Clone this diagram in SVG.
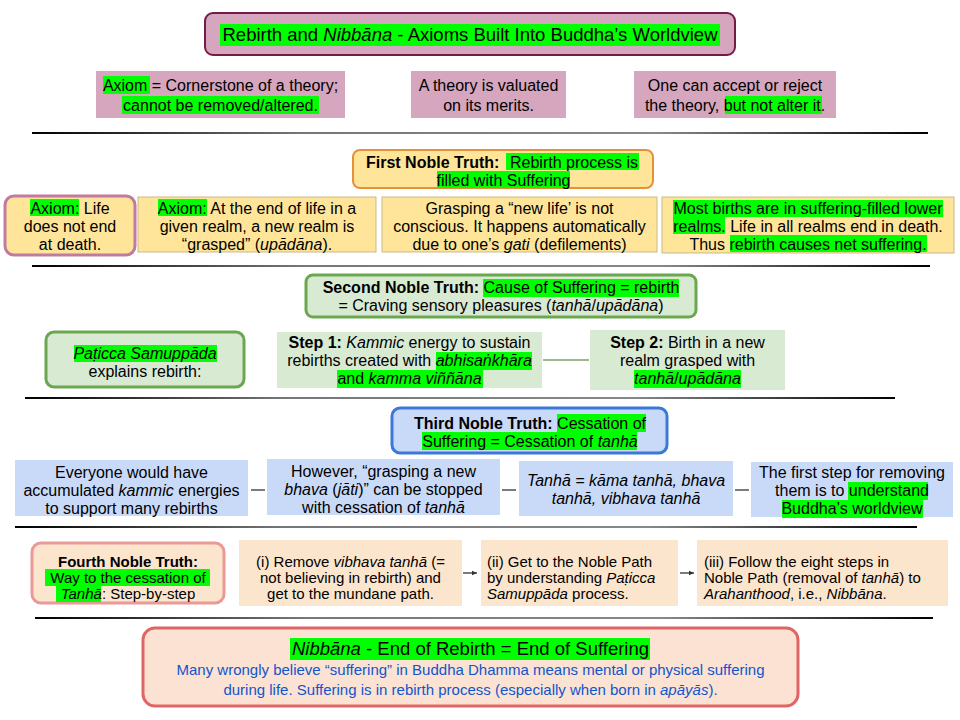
<svg xmlns="http://www.w3.org/2000/svg" width="960" height="720" viewBox="0 0 960 720">
<defs>
<style>
text{font-family:"Liberation Sans",Arial,sans-serif;font-size:16px;fill:#000;text-anchor:middle}
.b{font-weight:bold}
.i{font-style:italic}
.t{font-size:18.5px}
.s{font-size:15px}
.l{text-anchor:start}
.blue{fill:#1155cc;font-size:15px}
.hl{fill:#00ff00}
.pink{fill:#d5a6bd}
.yel{fill:#ffe599}
.yelb{fill:#ffe599;stroke:#c9b98a;stroke-width:1}
.grn{fill:#d9ead3}
.blu{fill:#c9daf8}
.pch{fill:#fce5cd}
.sep{fill:url(#sg)}
.con{stroke:#333;stroke-width:1.3;fill:none}
</style>
<linearGradient id="sg" x1="0" y1="0" x2="1" y2="0">
<stop offset="0" stop-color="#000"/>
<stop offset="0.3" stop-color="#777"/>
<stop offset="0.7" stop-color="#888"/>
<stop offset="1" stop-color="#000"/>
</linearGradient>
<marker id="ah" markerWidth="6" markerHeight="6" refX="5" refY="3" orient="auto" markerUnits="userSpaceOnUse">
<path d="M0,0.8 L5,3 L0,5.2 Z" fill="#333"/>
</marker>
</defs>
<rect width="960" height="720" fill="#fff"/>

<g id="separators">
<rect class="sep" x="32" y="132" width="896" height="2"/>
<rect class="sep" x="32" y="265" width="898" height="2"/>
<rect class="sep" x="25" y="397" width="870" height="2"/>
<rect class="sep" x="15" y="526" width="902" height="2"/>
<rect class="sep" x="35" y="617" width="898" height="2"/>
</g>

<g id="title">
<rect x="205" y="13" width="530" height="42" rx="8" fill="#d5a6bd" stroke="#741b47" stroke-width="2"/>
<rect class="hl" x="220" y="24" width="500" height="22"/>
<text class="t" x="470" y="41">Rebirth and <tspan class="i">Nibbāna</tspan> - Axioms Built Into Buddha’s Worldview</text>
</g>

<g id="axiom-def">
<rect class="pink" x="96" y="71" width="249" height="47"/>
<rect class="hl" x="103" y="76" width="47" height="18"/>
<rect class="hl" x="122" y="96" width="197" height="18"/>
<text x="220.5" y="90.5">Axiom = Cornerstone of a theory;</text>
<text x="220.5" y="110.5">cannot be removed/altered.</text>
</g>
<g id="theory-merits">
<rect class="pink" x="411" y="71" width="155" height="47"/>
<text x="488.5" y="90.5">A theory is valuated</text>
<text x="488.5" y="110.5">on its merits.</text>
</g>
<g id="accept-reject">
<rect class="pink" x="634" y="71" width="202" height="47"/>
<rect class="hl" x="725" y="96" width="97" height="18"/>
<text x="735" y="90.5">One can accept or reject</text>
<text x="735" y="110.5">the theory, but not alter it.</text>
</g>

<g id="first-noble-truth">
<rect x="353" y="150" width="300" height="38" rx="7" fill="#ffe599" stroke="#e69138" stroke-width="2"/>
<rect class="hl" x="506" y="153" width="133" height="17"/>
<rect class="hl" x="437" y="171" width="133" height="17"/>
<text class="l" x="366" y="167.5"><tspan class="b">First Noble Truth:</tspan><tspan x="510">Rebirth process is</tspan></text>
<text x="503.5" y="185.5">filled with Suffering</text>
</g>

<g id="axiom-life">
<rect x="5" y="196" width="130" height="59" rx="9" fill="#ffe599" stroke="#c27ba0" stroke-width="3"/>
<rect class="hl" x="30" y="199" width="49" height="17"/>
<text x="70" y="213.5">Axiom: Life</text>
<text x="70" y="231.5">does not end</text>
<text x="70" y="249.5">at death.</text>
</g>
<g id="axiom-grasped">
<rect class="yelb" x="138" y="197" width="238" height="55"/>
<rect class="hl" x="158" y="199" width="49" height="17"/>
<text x="257" y="213.5">Axiom: At the end of life in a</text>
<text x="257" y="231.5">given realm, a new realm is</text>
<text x="257" y="249.5">“grasped” (<tspan class="i">upādāna</tspan>).</text>
</g>
<g id="grasping">
<rect class="yelb" x="382" y="197" width="275" height="55"/>
<text x="519.5" y="213.5">Grasping a “new life’ is not</text>
<text x="519.5" y="231.5">conscious. It happens automatically</text>
<text x="519.5" y="249.5">due to one’s <tspan class="i">gati</tspan> (defilements)</text>
</g>
<g id="most-births">
<rect class="yelb" x="662" y="197" width="292" height="56"/>
<rect class="hl" x="673" y="200" width="270" height="17"/>
<rect class="hl" x="673" y="217" width="52" height="17"/>
<rect class="hl" x="730" y="235" width="197" height="17"/>
<text x="808" y="213.5">Most births are in suffering-filled lower</text>
<text x="808" y="231.5">realms. Life in all realms end in death.</text>
<text x="808" y="249.5">Thus rebirth causes net suffering.</text>
</g>

<g id="second-noble-truth">
<rect x="306" y="275" width="390" height="42" rx="7" fill="#d9ead3" stroke="#6aa84f" stroke-width="3"/>
<rect class="hl" x="483" y="279" width="196" height="18"/>
<text x="501" y="293"><tspan class="b">Second Noble Truth:</tspan> Cause of Suffering = rebirth</text>
<text x="501" y="311">= Craving sensory pleasures (<tspan class="i">tanhā</tspan>/<tspan class="i">upādāna</tspan>)</text>
</g>

<g id="paticca">
<rect x="46" y="332" width="198" height="55" rx="8" fill="#d9ead3" stroke="#6aa84f" stroke-width="3"/>
<rect class="hl" x="74" y="345" width="143" height="17"/>
<text x="145" y="359"><tspan class="i">Paṭicca Samuppāda</tspan></text>
<text x="145" y="377">explains rebirth:</text>
</g>
<g id="step1">
<rect class="grn" x="277" y="332" width="265" height="56"/>
<rect class="hl" x="436" y="352" width="96" height="18"/>
<rect class="hl" x="337" y="370" width="146" height="18"/>
<text x="409.5" y="348"><tspan class="b">Step 1:</tspan> <tspan class="i">Kammic</tspan> energy to sustain</text>
<text x="409.5" y="366">rebirths created with <tspan class="i">abhisaṅkhāra</tspan></text>
<text x="409.5" y="384">and <tspan class="i">kamma viññāna</tspan></text>
</g>
<g id="step2">
<rect class="grn" x="590" y="330" width="195" height="60"/>
<rect class="hl" x="634" y="370" width="107" height="18"/>
<text x="687.5" y="348"><tspan class="b">Step 2:</tspan> Birth in a new</text>
<text x="687.5" y="366">realm grasped with</text>
<text x="687.5" y="384"><tspan class="i">tanhā</tspan>/<tspan class="i">upādāna</tspan></text>
</g>

<g id="third-noble-truth">
<rect x="392" y="408" width="275" height="45" rx="8" fill="#c9daf8" stroke="#3c78d8" stroke-width="3"/>
<rect class="hl" x="557" y="414" width="89" height="18"/>
<rect class="hl" x="422" y="432" width="215" height="18"/>
<text x="530" y="428.5"><tspan class="b">Third Noble Truth:</tspan> Cessation of</text>
<text x="530" y="446.5">Suffering = Cessation of <tspan class="i">tanhā</tspan></text>
</g>

<g id="everyone">
<rect class="blu" x="15" y="460" width="233" height="56"/>
<text x="131.5" y="478">Everyone would have</text>
<text x="131.5" y="496">accumulated <tspan class="i">kammic</tspan> energies</text>
<text x="131.5" y="514">to support many rebirths</text>
</g>
<g id="however">
<rect class="blu" x="267" y="459" width="233" height="56"/>
<text x="383.5" y="477">However, “grasping a new</text>
<text x="383.5" y="495"><tspan class="i">bhava</tspan> (<tspan class="i">jāti</tspan>)” can be stopped</text>
<text x="383.5" y="513">with cessation of <tspan class="i">tanhā</tspan></text>
</g>
<g id="tanha-types">
<rect class="blu" x="519" y="461" width="214" height="55"/>
<text class="i" x="626" y="486">Tanhā = kāma tanhā, bhava</text>
<text class="i" x="626" y="504">tanhā, vibhava tanhā</text>
</g>
<g id="first-step">
<rect class="blu" x="751" y="462" width="202" height="55"/>
<rect class="hl" x="848" y="482" width="80" height="18"/>
<rect class="hl" x="782" y="500" width="141" height="18"/>
<text x="852" y="478">The first step for removing</text>
<text x="852" y="496">them is to understand</text>
<text x="852" y="514">Buddha’s worldview</text>
</g>

<g id="fourth-noble-truth">
<rect x="32" y="543" width="192" height="60" rx="9" fill="#fce5cd" stroke="#ea9999" stroke-width="3"/>
<rect class="hl" x="45" y="569" width="165" height="17"/>
<rect class="hl" x="56" y="585" width="45" height="17"/>
<text class="s b" x="128" y="566.5">Fourth Noble Truth:</text>
<text class="s" x="128" y="582.5">Way to the cessation of</text>
<text class="s" x="128" y="598.5"><tspan class="i">Tanhā</tspan>: Step-by-step</text>
</g>
<g id="step-i">
<rect class="pch" x="239" y="540" width="223" height="66"/>
<text class="s" x="350.5" y="566.5">(i) Remove <tspan class="i">vibhava tanhā</tspan> (=</text>
<text class="s" x="350.5" y="582.5">not believing in rebirth) and</text>
<text class="s" x="350.5" y="598.5">get to the mundane path.</text>
</g>
<g id="step-ii">
<rect class="pch" x="481" y="540" width="197" height="66"/>
<text class="s l" x="487" y="566.5">(ii) Get to the Noble Path</text>
<text class="s l" x="487" y="582.5">by understanding <tspan class="i">Paṭicca</tspan></text>
<text class="s l" x="487" y="598.5"><tspan class="i">Samuppāda</tspan> process.</text>
</g>
<g id="step-iii">
<rect class="pch" x="697" y="540" width="251" height="66"/>
<text class="s l" x="704" y="566.5">(iii) Follow the eight steps in</text>
<text class="s l" x="704" y="582.5">Noble Path (removal of <tspan class="i">tanhā</tspan>) to</text>
<text class="s l" x="704" y="598.5"><tspan class="i">Arahanthood</tspan>, i.e., <tspan class="i">Nibbāna</tspan>.</text>
</g>

<g id="nibbana">
<rect x="143" y="628" width="655" height="78" rx="12" fill="#fbe2d3" stroke="#e06666" stroke-width="3"/>
<rect class="hl" x="290" y="638" width="360" height="22"/>
<text class="t" x="470.5" y="654.5"><tspan class="i">Nibbāna</tspan> - End of Rebirth = End of Suffering</text>
<text class="blue" x="470.5" y="674.5">Many wrongly believe “suffering” in Buddha Dhamma means mental or physical suffering</text>
<text class="blue" x="470.5" y="694.5">during life. Suffering is in rebirth process (especially when born in <tspan class="i">apāyās</tspan>).</text>
</g>

<g id="connectors">
<line x1="543" y1="360" x2="589" y2="360" stroke="#38761d" stroke-width="1.2"/>
<line class="con" x1="251" y1="490" x2="265" y2="490"/>
<line class="con" x1="502" y1="490" x2="516" y2="490"/>
<line class="con" x1="735" y1="490" x2="749" y2="490"/>
<line class="con" x1="463" y1="573" x2="477" y2="573" marker-end="url(#ah)"/>
<line class="con" x1="680" y1="573" x2="694" y2="573" marker-end="url(#ah)"/>
</g>
</svg>
